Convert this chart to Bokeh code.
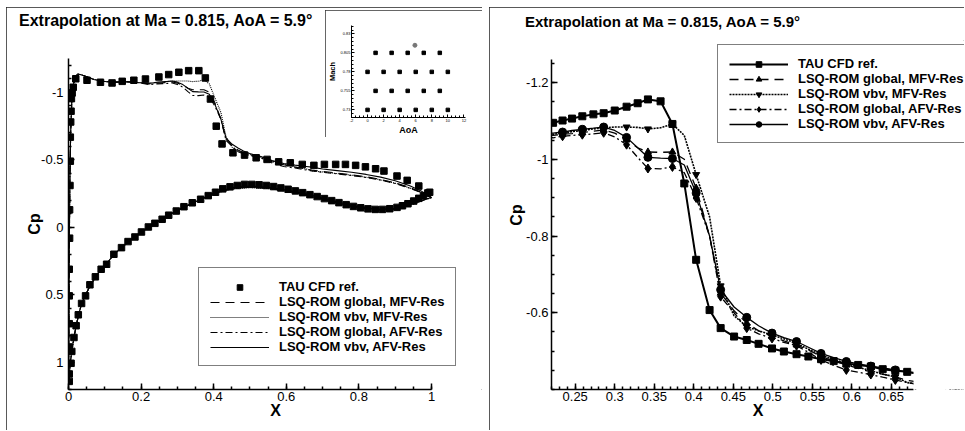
import numpy as np
from bokeh.plotting import figure
from bokeh.models import Range1d, FixedTicker, Legend, LegendItem, GridBox, BoxAnnotation, Div
from bokeh.embed import file_html
from bokeh.resources import INLINE

FONT = "Liberation Sans"
INK = "#000000"

# ------------------------------------------------------------------ data
title_text = "Extrapolation at Ma = 0.815, AoA = 5.9°"
series_labels = ["TAU CFD ref.", "LSQ-ROM global, MFV-Res", "LSQ-ROM vbv, MFV-Res",
                 "LSQ-ROM global, AFV-Res", "LSQ-ROM vbv, AFV-Res"]

left_x_ticks = [0.0, 0.2, 0.4, 0.6, 0.8, 1.0]
left_x_tick_labels = ["0", "0.2", "0.4", "0.6", "0.8", "1"]
left_y_ticks = [-1.0, -0.5, 0.0, 0.5, 1.0]
left_y_tick_labels = ["-1", "-0.5", "0", "0.5", "1"]
right_x_ticks = [0.25, 0.3, 0.35, 0.4, 0.45, 0.5, 0.55, 0.6, 0.65]
right_x_tick_labels = ["0.25", "0.3", "0.35", "0.4", "0.45", "0.5", "0.55", "0.6", "0.65"]
right_y_ticks = [-1.2, -1.0, -0.8, -0.6]
right_y_tick_labels = ["-1.2", "-1", "-0.8", "-0.6"]
inset_x_ticks = [-2, 0, 2, 4, 6, 8, 10, 12]
inset_x_tick_labels = ["-2", "0", "2", "4", "6", "8", "10", "12"]
inset_y_ticks = [0.73, 0.755, 0.78, 0.805, 0.83]
inset_y_tick_labels = ["0.73", "0.755", "0.78", "0.805", "0.83"]

# TAU reference, full chord (left panel)
tau_up_x = [0.002, 0.002, 0.002, 0.002, 0.002, 0.002, 0.003, 0.003, 0.004, 0.005, 0.005, 0.006,
            0.007, 0.008, 0.010, 0.013, 0.020, 0.051, 0.088, 0.120, 0.148, 0.180, 0.212, 0.249,
            0.276, 0.304, 0.331, 0.359, 0.377, 0.391, 0.407, 0.423, 0.453, 0.485, 0.517, 0.547,
            0.579, 0.611, 0.644, 0.676, 0.705, 0.736, 0.763, 0.791, 0.818, 0.846, 0.869, 0.905,
            0.933, 0.965, 0.995]
tau_up_cp = [1.140, 1.085, 0.885, 0.713, 0.507, 0.310, 0.080, -0.130, -0.310, -0.490, -0.668, -0.780,
             -0.860, -0.953, -0.995, -1.037, -1.100, -1.089, -1.074, -1.069, -1.081, -1.089, -1.098, -1.113,
             -1.131, -1.148, -1.160, -1.160, -1.106, -0.950, -0.749, -0.618, -0.552, -0.535, -0.515, -0.503,
             -0.485, -0.478, -0.466, -0.459, -0.466, -0.466, -0.466, -0.459, -0.448, -0.434, -0.417, -0.380,
             -0.348, -0.306, -0.260]
tau_lo_x = [0.007, 0.009, 0.015, 0.021, 0.027, 0.036, 0.047, 0.059, 0.074, 0.090, 0.105, 0.125,
            0.146, 0.164, 0.183, 0.201, 0.220, 0.238, 0.258, 0.276, 0.297, 0.318, 0.341, 0.364,
            0.385, 0.405, 0.425, 0.445, 0.465, 0.485, 0.505, 0.525, 0.545, 0.565, 0.585, 0.605,
            0.625, 0.645, 0.665, 0.685, 0.705, 0.725, 0.745, 0.765, 0.785, 0.805, 0.825, 0.845,
            0.865, 0.885, 0.905, 0.920, 0.935, 0.951, 0.965, 0.978, 0.990]
tau_lo_cp = [1.006, 0.918, 0.815, 0.728, 0.647, 0.563, 0.507, 0.425, 0.366, 0.310, 0.273, 0.199,
             0.150, 0.105, 0.071, 0.034, -0.003, -0.030, -0.060, -0.090, -0.121, -0.153, -0.182, -0.208,
             -0.235, -0.260, -0.285, -0.300, -0.310, -0.318, -0.318, -0.315, -0.310, -0.302, -0.292, -0.282,
             -0.270, -0.257, -0.242, -0.228, -0.213, -0.198, -0.183, -0.168, -0.155, -0.145, -0.137, -0.133,
             -0.133, -0.138, -0.148, -0.160, -0.175, -0.195, -0.215, -0.235, -0.255]

# TAU reference, shock region at full resolution (right panel)
tau_zoom_x = [0.222, 0.234, 0.246, 0.259, 0.273, 0.286, 0.300, 0.315, 0.329, 0.342, 0.358, 0.373,
              0.388, 0.403, 0.420, 0.434, 0.451, 0.467, 0.482, 0.499, 0.514, 0.530, 0.545, 0.561,
              0.577, 0.593, 0.608, 0.624, 0.639, 0.655, 0.670, 0.685]
tau_zoom_cp = [-1.095, -1.101, -1.106, -1.112, -1.117, -1.120, -1.127, -1.137, -1.146, -1.156, -1.151, -1.092,
               -0.937, -0.738, -0.607, -0.560, -0.538, -0.529, -0.519, -0.507, -0.499, -0.492, -0.486, -0.479,
               -0.474, -0.468, -0.464, -0.460, -0.453, -0.449, -0.446, -0.441]

# LSQ-ROM predictions, upper surface: leading edge (shared), shock region, trailing part
rom_le_x = [0.0, 0.0005, 0.001, 0.0015, 0.002, 0.003, 0.004, 0.006, 0.009, 0.013, 0.018, 0.025,
            0.035, 0.05, 0.07, 0.10, 0.13, 0.16, 0.19]
rom_le_cp = [1.15, 1.05, 0.80, 0.50, 0.20, -0.10, -0.40, -0.70, -0.93, -1.05, -1.11, -1.135,
             -1.13, -1.115, -1.095, -1.08, -1.075, -1.078, -1.072]
rom_zoom_x = [0.222, 0.234, 0.246, 0.259, 0.273, 0.286, 0.300, 0.315, 0.329, 0.342, 0.358, 0.373,
              0.388, 0.403, 0.420, 0.434, 0.451, 0.467, 0.482, 0.499, 0.514, 0.530, 0.545, 0.561,
              0.577, 0.593, 0.608, 0.624, 0.639, 0.655, 0.670]
rom_glob_mfv_zoom = [-1.062, -1.065, -1.067, -1.070, -1.073, -1.076, -1.068, -1.051, -1.030, -1.019, -1.018, -1.019,
                     -1.000, -0.925, -0.800, -0.651, -0.605, -0.573, -0.553, -0.538, -0.527, -0.516, -0.503, -0.486,
                     -0.474, -0.464, -0.455, -0.446, -0.440, -0.433, -0.424]
rom_vbv_mfv_zoom = [-1.065, -1.068, -1.072, -1.075, -1.079, -1.082, -1.084, -1.084, -1.083, -1.079, -1.082, -1.092,
                    -1.062, -0.960, -0.850, -0.670, -0.592, -0.564, -0.553, -0.542, -0.532, -0.520, -0.505, -0.490,
                    -0.478, -0.468, -0.458, -0.449, -0.440, -0.433, -0.418]
rom_glob_afv_zoom = [-1.056, -1.060, -1.062, -1.064, -1.066, -1.069, -1.058, -1.038, -1.005, -0.976, -0.975, -0.980,
                     -0.965, -0.899, -0.800, -0.642, -0.600, -0.560, -0.545, -0.533, -0.523, -0.514, -0.497, -0.477,
                     -0.463, -0.451, -0.445, -0.439, -0.432, -0.425, -0.418]
rom_vbv_afv_zoom = [-1.068, -1.071, -1.075, -1.078, -1.081, -1.084, -1.075, -1.057, -1.030, -1.005, -1.003, -1.002,
                    -0.985, -0.912, -0.800, -0.660, -0.615, -0.588, -0.566, -0.547, -0.535, -0.525, -0.510, -0.494,
                    -0.483, -0.473, -0.467, -0.461, -0.456, -0.451, -0.446]
rom_te_x = [0.70, 0.74, 0.78, 0.82, 0.86, 0.90, 0.94, 0.97, 1.0]
rom_glob_mfv_te = [-0.415, -0.402, -0.390, -0.375, -0.355, -0.330, -0.295, -0.262, -0.22]
rom_vbv_mfv_te = [-0.410, -0.398, -0.386, -0.371, -0.352, -0.327, -0.292, -0.260, -0.22]
rom_glob_afv_te = [-0.408, -0.396, -0.384, -0.369, -0.350, -0.325, -0.290, -0.258, -0.22]
rom_vbv_afv_te = [-0.432, -0.420, -0.408, -0.392, -0.372, -0.345, -0.308, -0.272, -0.22]

# LSQ-ROM predictions, lower surface
rom_lo_x = [0.0, 0.002, 0.005, 0.009, 0.015, 0.021, 0.028, 0.036, 0.047, 0.060, 0.075, 0.090,
            0.105, 0.125, 0.150, 0.180, 0.210, 0.250, 0.300, 0.350, 0.400, 0.450, 0.500, 0.550,
            0.600, 0.650, 0.700, 0.750, 0.800, 0.850, 0.900, 0.940, 0.970, 0.990, 1.000]
rom_glob_mfv_lo = [1.15, 1.10, 1.00, 0.92, 0.815, 0.73, 0.645, 0.565, 0.50, 0.43, 0.365, 0.31,
                   0.27, 0.20, 0.14, 0.075, 0.02, -0.05, -0.125, -0.19, -0.25, -0.29, -0.30, -0.292,
                   -0.272, -0.245, -0.212, -0.178, -0.148, -0.130, -0.138, -0.165, -0.195, -0.213, -0.22]
rom_vbv_mfv_lo = [1.15, 1.10, 1.00, 0.92, 0.815, 0.73, 0.645, 0.565, 0.50, 0.43, 0.365, 0.31,
                  0.27, 0.20, 0.14, 0.075, 0.02, -0.05, -0.125, -0.19, -0.247, -0.285, -0.295, -0.288,
                  -0.268, -0.241, -0.208, -0.174, -0.144, -0.127, -0.135, -0.162, -0.193, -0.212, -0.22]
rom_glob_afv_lo = [1.15, 1.10, 1.00, 0.92, 0.815, 0.73, 0.645, 0.565, 0.50, 0.43, 0.365, 0.31,
                   0.27, 0.20, 0.14, 0.075, 0.02, -0.05, -0.125, -0.19, -0.248, -0.287, -0.297, -0.289,
                   -0.270, -0.243, -0.210, -0.176, -0.146, -0.128, -0.136, -0.163, -0.194, -0.212, -0.22]
rom_vbv_afv_lo = [1.15, 1.10, 1.00, 0.92, 0.815, 0.73, 0.645, 0.565, 0.50, 0.43, 0.365, 0.31,
                  0.27, 0.20, 0.14, 0.075, 0.02, -0.05, -0.125, -0.19, -0.252, -0.294, -0.305, -0.297,
                  -0.277, -0.250, -0.217, -0.182, -0.151, -0.133, -0.141, -0.168, -0.197, -0.214, -0.22]

# inset: training samples and extrapolation point
train_aoa = [0, 2, 4, 6, 8, 10, 1, 3, 5, 7, 9, 0, 2, 4, 6, 8, 10, 1, 3, 5, 7, 9]
train_mach = [0.73, 0.73, 0.73, 0.73, 0.73, 0.73, 0.755, 0.755, 0.755, 0.755, 0.755,
              0.78, 0.78, 0.78, 0.78, 0.78, 0.78, 0.805, 0.805, 0.805, 0.805, 0.805]
extrap_aoa = [5.9]
extrap_mach = [0.815]


# ------------------------------------------------------------------ helpers
def steps(start, stop, step):
    return [round(float(v), 4) for v in np.arange(start, stop + step / 2, step)]


def style_axes(p, xt, xl, xminor, yt, yl, yminor, tick_px, label_px, major, minor, lw,
               xstand, ystand, xlab_stand, ylab_stand):
    p.xaxis.ticker = FixedTicker(ticks=xt, minor_ticks=xminor)
    p.yaxis.ticker = FixedTicker(ticks=yt, minor_ticks=yminor)
    p.xaxis.major_label_overrides = {t: s for t, s in zip(xt, xl)}
    p.yaxis.major_label_overrides = {t: s for t, s in zip(yt, yl)}
    for ax in (p.xaxis[0], p.yaxis[0]):
        ax.axis_line_color = INK
        ax.axis_line_width = lw
        ax.major_tick_line_color = INK
        ax.minor_tick_line_color = INK
        ax.major_tick_line_width = lw
        ax.minor_tick_line_width = lw
        ax.major_tick_in = major
        ax.major_tick_out = 0
        ax.minor_tick_in = minor
        ax.minor_tick_out = 0
        ax.major_label_text_font = FONT
        ax.major_label_text_font_size = tick_px
        ax.major_label_text_color = INK
        ax.axis_label_text_font = FONT
        ax.axis_label_text_font_style = "bold"
        ax.axis_label_text_font_size = label_px
        ax.axis_label_text_color = INK
    p.xaxis.major_label_standoff = xstand
    p.yaxis.major_label_standoff = ystand
    p.xaxis.axis_label_standoff = xlab_stand
    p.yaxis.axis_label_standoff = ylab_stand
    p.xgrid.visible = False
    p.ygrid.visible = False
    p.outline_line_color = None


def style_legend(lg):
    lg.border_line_color = INK
    lg.border_line_width = 1
    lg.background_fill_color = "white"
    lg.background_fill_alpha = 1.0
    lg.label_text_font = FONT
    lg.label_text_font_style = "bold"
    lg.label_text_font_size = "13px"
    lg.label_text_color = INK
    lg.glyph_width = 59
    lg.glyph_height = 14
    lg.label_height = 14
    lg.label_standoff = 10
    lg.spacing = 0
    lg.padding = 11
    lg.margin = 0


def title_div(size_px, pad_left, pad_top):
    html = ('<span style="display:inline-block; white-space:nowrap; padding-left:%dpx; '
            'padding-top:%dpx; font-family:\'%s\'; font-weight:bold; font-size:%dpx; '
            'line-height:1.15; color:#000;">%s</span>' % (pad_left, pad_top, FONT, size_px, title_text))
    return Div(text=html, width=330, height=30, styles={"margin": "0", "padding": "0"})


frame_style = {"outline": "1.5px solid #222", "outline-offset": "-1.5px"}

rom_up_x = rom_le_x + rom_zoom_x + rom_te_x
# (upper curve, shock-region values, lower curve, dash left, dash right, width right, marker, size)
rom_series = [
    (rom_le_cp + rom_glob_mfv_zoom + rom_glob_mfv_te, rom_glob_mfv_zoom, rom_glob_mfv_lo,
     "9 6", "9 6", 1.3, "triangle", 7),
    (rom_le_cp + rom_vbv_mfv_zoom + rom_vbv_mfv_te, rom_vbv_mfv_zoom, rom_vbv_mfv_lo,
     "1 1", "2 1", 1.6, "inverted_triangle", 7),
    (rom_le_cp + rom_glob_afv_zoom + rom_glob_afv_te, rom_glob_afv_zoom, rom_glob_afv_lo,
     "7 3 2 3", "7 3 2 3", 1.3, "diamond", 9),
    (rom_le_cp + rom_vbv_afv_zoom + rom_vbv_afv_te, rom_vbv_afv_zoom, rom_vbv_afv_lo,
     "solid", "solid", 1.3, "circle", 8),
]

# ------------------------------------------------------------------ left panel
# frame spans x = 0 .. 1.1405 so that the legend box fits; the axis itself stops at 1
p_left = figure(width=476, height=423, x_range=Range1d(0, 1.1405), y_range=Range1d(1.2, -1.25),
                output_backend="svg", toolbar_location=None, frame_align=False,
                x_axis_label="X", y_axis_label="Cp",
                min_border_left=62, min_border_right=0, min_border_top=51, min_border_bottom=41,
                styles=frame_style)
style_axes(p_left, left_x_ticks, left_x_tick_labels, steps(0, 1, 0.05),
           left_y_ticks, left_y_tick_labels, steps(-1.2, 1.2, 0.1),
           "13px", "16px", 6, 3, 1.5, 2, 5, -2, -5)
p_left.xaxis.bounds = (0, 1)

left_items = []
for up_cp, _z, lo_cp, dash, _dr, _wr, _m, _s in rom_series:
    r_up = p_left.line(rom_up_x, up_cp, line_color=INK, line_width=1.1, line_dash=dash)
    p_left.line(rom_lo_x, lo_cp, line_color=INK, line_width=1.1, line_dash=dash)
    left_items.append(r_up)
tau_r = p_left.scatter(tau_up_x + tau_lo_x, tau_up_cp + tau_lo_cp, marker="square", size=6.5,
                       fill_color=INK, line_color=INK)

leg_left = Legend(items=[LegendItem(label=series_labels[0], renderers=[tau_r])] +
                  [LegendItem(label=lab, renderers=[r]) for lab, r in zip(series_labels[1:], left_items)],
                  location=(130, 23))
style_legend(leg_left)
p_left.add_layout(leg_left)

# ------------------------------------------------------------------ right panel
# frame extends above and right of the axes so the legend box is not clipped
p_right = figure(width=475, height=423, x_range=Range1d(0.22, 0.7425), y_range=Range1d(-0.4, -1.3095),
                 output_backend="svg", toolbar_location=None, frame_align=False,
                 x_axis_label="X", y_axis_label="Cp",
                 min_border_left=62, min_border_right=0, min_border_top=33, min_border_bottom=41,
                 styles=frame_style)
style_axes(p_right, right_x_ticks, right_x_tick_labels, steps(0.22, 0.68, 0.01),
           right_y_ticks, right_y_tick_labels, steps(-1.25, -0.4, 0.05),
           "13px", "16px", 6, 3, 1.5, 2, 3, -2, -2)
p_right.xaxis.bounds = (0.22, 0.678)
p_right.yaxis.bounds = (-1.26, -0.4)

right_items = []
tl = p_right.line(tau_zoom_x, tau_zoom_cp, line_color=INK, line_width=2)
ts = p_right.scatter(tau_zoom_x, tau_zoom_cp, marker="square", size=7, fill_color=INK, line_color=INK)
right_items.append(LegendItem(label=series_labels[0], renderers=[tl, ts]))
for lab, (up_cp, zcp, _lo, _dl, dash, wr, mk, sz) in zip(series_labels[1:], rom_series):
    rl = p_right.line(rom_up_x, up_cp, line_color=INK, line_width=wr, line_dash=dash)
    rs = p_right.scatter(rom_zoom_x[1::2], zcp[1::2], marker=mk, size=sz, fill_color=INK, line_color=INK)
    right_items.append(LegendItem(label=lab, renderers=[rl, rs]))

# white mask: the curves end at the right end of the x axis
p_right.add_layout(BoxAnnotation(left=0.678, fill_color="white", fill_alpha=1.0, line_alpha=0.0))

leg_right = Legend(items=right_items, location=(166, 246))
style_legend(leg_right)
p_right.add_layout(leg_right)

# ------------------------------------------------------------------ inset
p_inset = figure(width=157, height=127, x_range=Range1d(-2, 12.2), y_range=Range1d(0.72, 0.841),
                 output_backend="svg", toolbar_location=None, frame_align=False,
                 x_axis_label="AoA", y_axis_label="Mach",
                 min_border_left=21, min_border_right=17, min_border_top=15, min_border_bottom=14,
                 styles={"outline": "1.5px solid #333", "outline-offset": "-1.5px"})
style_axes(p_inset, inset_x_ticks, inset_x_tick_labels, steps(-2, 12, 0.5),
           inset_y_ticks, inset_y_tick_labels, steps(0.72, 0.84, 0.005),
           "4px", "9px", 3, 2, 1, 1, 1, 0, 0)
p_inset.yaxis.axis_label_text_font_size = "7.5px"
p_inset.scatter(train_aoa, train_mach, marker="square", size=3.5, fill_color=INK, line_color=INK)
p_inset.scatter(extrap_aoa, extrap_mach, marker="circle", size=4, fill_color="#777777", line_color="#777777")

# ------------------------------------------------------------------ layout
t_left = title_div(16, 13, 5)
t_right = title_div(15, 36, 6)

grid = GridBox(children=[(p_left, 1, 1, 3, 2), (p_right, 1, 4, 3, 1), (p_inset, 2, 2, 1, 1),
                         (t_left, 1, 1, 1, 1), (t_right, 1, 4, 1, 1)],
               rows=["7px", "3px", "127px", "293px"],
               cols=["6px", "319px", "157px", "7px", "475px"])

open("out.html", "w", encoding="utf-8").write(file_html(grid, INLINE))
